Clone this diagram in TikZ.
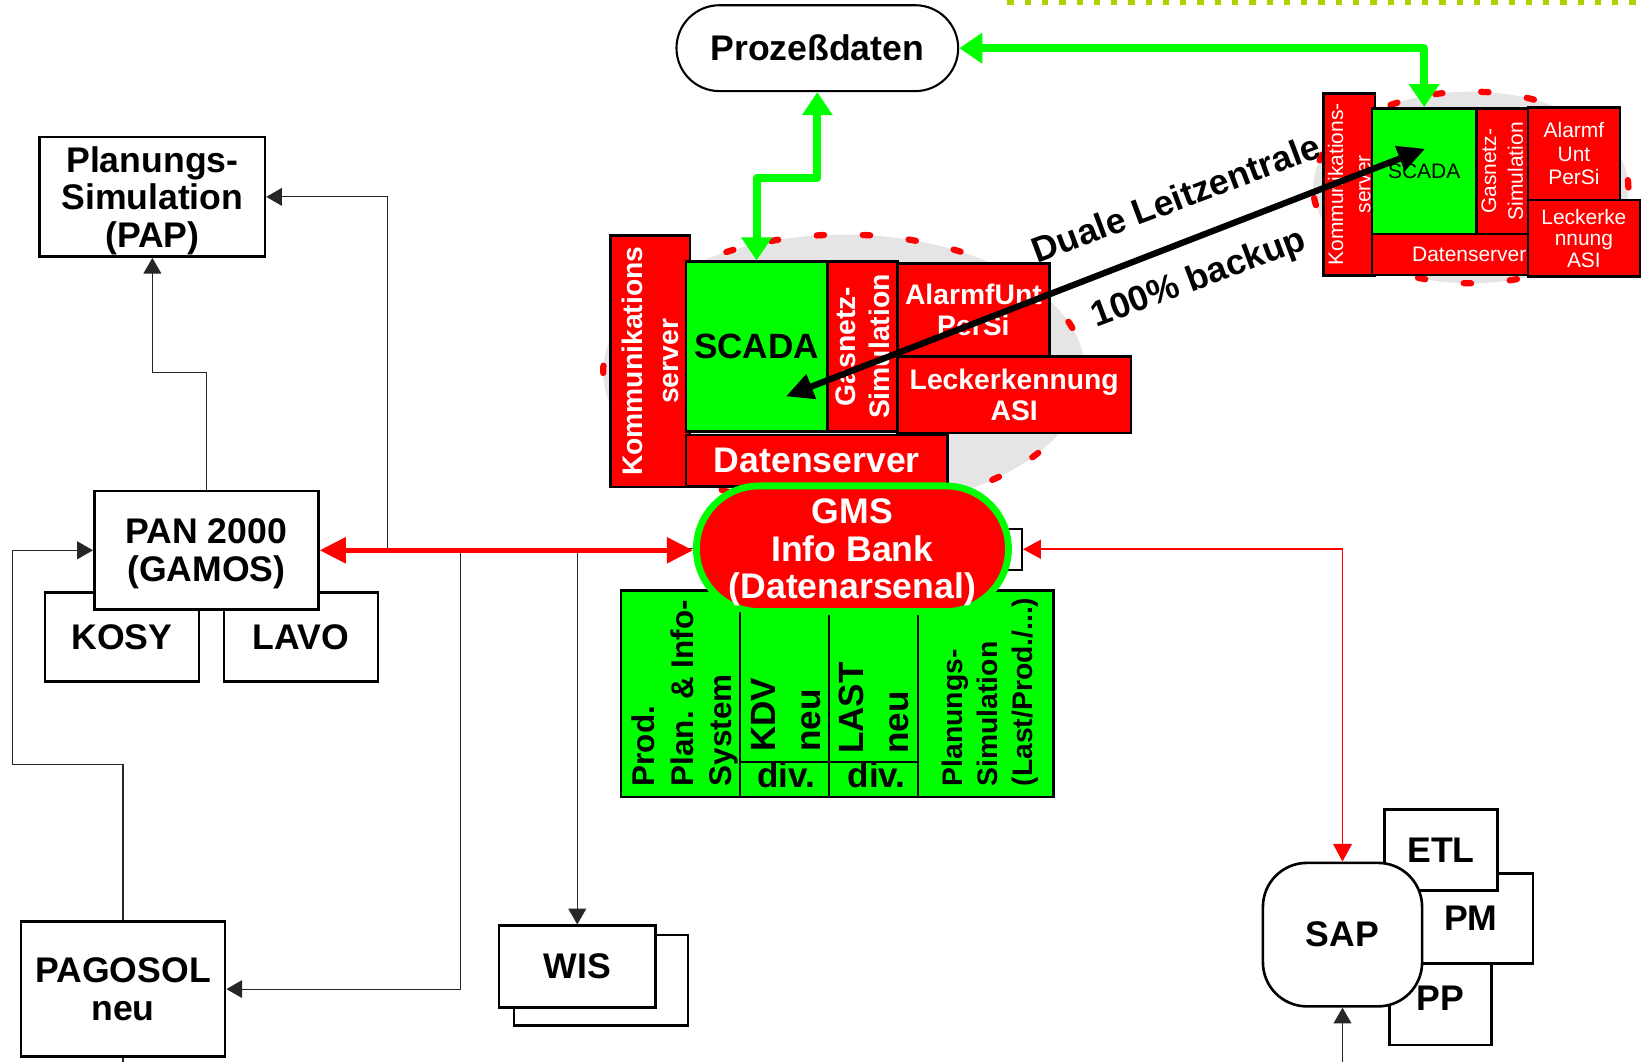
\documentclass[tikz,border=0pt]{standalone}
\usepackage{fontspec}
\setmainfont{Liberation Sans}
\usepackage{tikz}
\usetikzlibrary{shapes.geometric, arrows.meta, positioning, calc}
\definecolor{scadagreen}{RGB}{0,255,0}
\definecolor{alarmred}{RGB}{255,0,0}
\definecolor{ringgray}{RGB}{229,229,229}
\definecolor{dotgreen}{RGB}{170,212,0}
\newcommand{\setfs}[2]{\fontsize{#1}{#2}\selectfont}

\begin{document}
\begin{tikzpicture}[x=1pt, y=-1pt,
    box/.style={rectangle, draw, line width=2.5pt, fill=white, inner sep=0pt, align=center, font=\bfseries\setfs{34}{36}},
    redbox/.style={box, fill=alarmred, text=white},
    greenbox/.style={box, fill=scadagreen},
    ring/.style={ellipse, draw=alarmred, fill=ringgray, line width=6pt, line cap=round, dash pattern=on 7pt off 37pt, inner sep=0pt},
    coltext/.style={rotate=90, anchor=north west, inner sep=0pt, align=left},
    divline/.style={line width=2pt},
    conn/.style={draw=black!85, line width=1.1pt, -{Triangle[length=15pt,width=17pt]}},
    redthin/.style={draw=alarmred, line width=1.5pt, <->, >={Triangle[length=17pt,width=18pt]}},
    redthick/.style={draw=alarmred, line width=5pt, <->, >={Triangle[length=25pt,width=24pt]}},
    greenarrow/.style={draw=scadagreen, line width=7.5pt, line join=round, <->, >={Triangle[length=22pt,width=28pt]}},
    dualarrow/.style={line width=6pt, <->, >={Triangle[length=26pt,width=24pt]}},
    dualtext/.style={rotate=20.5, inner sep=0pt, font=\bfseries\setfs{34}{36}},
    dotline/.style={draw=dotgreen, line width=5pt, dash pattern=on 6pt off 10.5pt}
]
\useasboundingbox (0,0) rectangle (1568,1014);

% Top marker line
\draw[dotline] (962,2.5) -- (1568,2.5);

% Control centre rings
\node[ring, minimum width=460pt, minimum height=262pt] (ringL) at (806,355) {};
\node[ring, minimum width=301pt, minimum height=183pt] (ringR) at (1404.5,179) {};

% Main control centre
\node[redbox, rotate=90, minimum width=240pt, minimum height=76pt, font=\bfseries\setfs{27}{34}] (kommL) at (621,345) {Kommunikations\\server};
\node[greenbox, minimum width=135pt, minimum height=162pt, font=\bfseries\setfs{33.5}{36}] (scadaL) at (722.5,331) {SCADA};
\node[redbox, rotate=90, minimum width=162pt, minimum height=67pt, font=\bfseries\setfs{27}{32.5}] (gasL) at (823.5,331) {Gasnetz-\\Simulation};
\node[redbox, minimum width=145pt, minimum height=89pt, font=\bfseries\setfs{27}{29}] (alarmL) at (929.5,296) {AlarmfUnt\\PerSi};
\node[redbox, minimum width=223pt, minimum height=73pt, font=\bfseries\setfs{27}{29}] (leckL) at (968.5,377) {Leckerkennung\\ASI};
\node[redbox, minimum width=250pt, minimum height=49pt] (datL) at (780,440) {Datenserver};

% Backup control centre
\node[redbox, rotate=90, minimum width=174pt, minimum height=49pt, font=\setfs{20}{26}] (kommR) at (1288.5,176) {Kommunikations-\\server};
\node[greenbox, minimum width=100pt, minimum height=120pt, font=\setfs{20}{24}] (scadaR) at (1360,163.5) {SCADA};
\node[redbox, rotate=90, minimum width=120pt, minimum height=49pt, font=\setfs{20}{25.5}] (gasR) at (1434.5,163.5) {Gasnetz-\\Simulation};
\node[redbox, minimum width=186pt, minimum height=39pt, font=\setfs{20}{24}] (datR) at (1403,243) {Datenserver};
\node[redbox, minimum width=88pt, minimum height=88.5pt, font=\setfs{20}{22.5}] (alarmR) at (1503,146.75) {Alarmf\\Unt\\PerSi};
\node[redbox, minimum width=107pt, minimum height=73pt, font=\setfs{20}{20.5}] (leckR) at (1512.5,227.5) {Leckerke\\nnung\\ASI};

% Process data
\node[box, rounded corners=41pt, line width=2pt, minimum width=269pt, minimum height=82pt] (proz) at (780.5,46) {Prozeßdaten};

% Applications under the info bank
\node[greenbox, minimum width=413pt, minimum height=197pt] (apps) at (799.5,662.5) {};
\foreach \dx in {115,200,285}
    \draw[divline] ($(apps.south west)+(\dx,0)$) -- ($(apps.north west)+(\dx,0)$);
\draw[divline] ($(apps.south west)+(115,-35)$) -- ($(apps.south west)+(285,-35)$);
\node[coltext, font=\bfseries\setfs{30}{37}] (prodtxt) at (603,751) {Prod.\\Plan. \& Info-\\System};
\node[coltext, font=\bfseries\setfs{33.5}{43}] (kdvtxt) at (717,718) {KDV\\neu};
\node[coltext, font=\bfseries\setfs{33.5}{43}] (lasttxt) at (801,720) {LAST\\neu};
\node[coltext, font=\bfseries\setfs{27}{33.5}] (plansimtxt) at (899,751) {Planungs-\\Simulation\\(Last/Prod./...)};
\node[inner sep=0pt, font=\bfseries\setfs{33.5}{36}] (div1) at (751,740) {div.};
\node[inner sep=0pt, font=\bfseries\setfs{33.5}{36}] (div2) at (837,740) {div.};

% Info bank
\node[box, line width=1.8pt, minimum width=46pt, minimum height=39pt] (port) at (953,524.5) {};
\node[redbox, draw=scadagreen, line width=6.5pt, rounded corners=60pt, minimum width=298pt, minimum height=120pt, text depth=0pt, font=\bfseries\setfs{34}{35.5}] (gms) at (814,524) {GMS\\Info Bank\\(Datenarsenal)};

% Planning systems (left side)
\node[box, text depth=0pt, minimum width=215pt, minimum height=114pt] (pap) at (145.5,188) {Planungs-\\Simulation\\(PAP)};
\node[box, minimum width=147pt, minimum height=85pt] (kosy) at (116.5,608.5) {KOSY};
\node[box, minimum width=147pt, minimum height=85pt] (lavo) at (287.5,608.5) {LAVO};
\node[box, text depth=0pt, minimum width=214pt, minimum height=113pt] (pan) at (197,525.5) {PAN 2000\\(GAMOS)};
\node[box, minimum width=195pt, minimum height=129pt] (pagosol) at (117.5,944.5) {PAGOSOL\\neu};
\node[box, minimum width=166pt, minimum height=86pt] (wisback) at (574,936) {};
\node[box, minimum width=149.5pt, minimum height=78pt] (wis) at (551.25,923) {WIS};

% SAP (right side)
\node[box, minimum width=119pt, minimum height=86pt] (pm) at (1404.5,877) {PM};
\node[box, minimum width=107.5pt, minimum height=77.5pt] (etl) at (1376,811.75) {ETL};
\node[box, text depth=11pt, minimum width=97pt, minimum height=78pt] (pp) at (1375.5,959) {PP};
\node[box, rounded corners=42pt, minimum width=152pt, minimum height=137pt] (sap) at (1282,892.5) {SAP};

% Connectors
\coordinate (tapPago) at (440,524);
\coordinate (tapWis) at (551.25,524);
\coordinate (sapFeed) at (1282,1014);
\draw[conn] (gms.west) -- ++(-292,0) |- (pap.east);
\draw[conn] (pan.north) -- ++(0,-112) -| (pap.south);
\draw[conn] (tapPago) |- (pagosol.east);
\draw[conn] (tapWis) -- (wis.north);
\draw[conn] (pagosol.north) -- ++(0,-149) -- ++(-105.5,0) |- (pan.west);
\draw[draw=black!85, line width=1.1pt] (pagosol.south) -- ++(0,6);
\draw[conn] (sapFeed) -- (sap.south);
\draw[redthin] (port.east) -| (sap.north);
\draw[redthick] (pan.east) -- (pan.east -| gms.west);
\draw[greenarrow] (proz.south) -- ++(0,82) -| (scadaL.north);
\draw[greenarrow] (proz.east) -| (scadaR.north);

% Dual control centre link
\coordinate (dualL) at (750.5,378.5);
\coordinate (dualR) at (1361,142);
\draw[dualarrow] (dualL) -- (dualR);
\node[dualtext] (duale) at (1123,189) {Duale Leitzentrale};
\node[dualtext] (backup) at (1145,267) {100\% backup};

\end{tikzpicture}
\end{document}
